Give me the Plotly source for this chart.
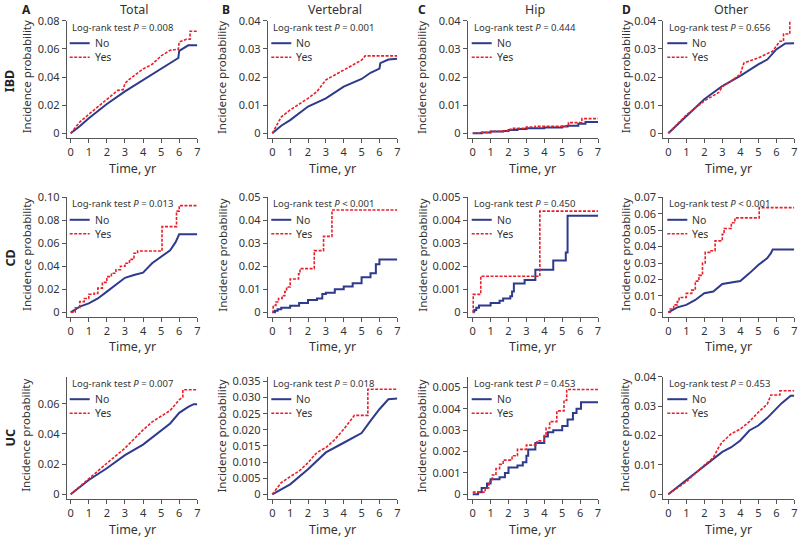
import plotly.graph_objects as go

W, H = 798, 537

# ---------------- data (time in years, cumulative incidence) ----------------
# Row IBD
ibd_total_no_t = [0, 0.5, 1, 2, 3, 4, 5, 5.5, 5.95, 6.0, 6.3, 6.5, 7]
ibd_total_no_p = [0, 0.005, 0.0107, 0.0208, 0.0298, 0.0379, 0.0459, 0.050, 0.0535, 0.0585, 0.061, 0.0625, 0.0625]
ibd_total_yes_t = [0, 0.5, 1, 2, 2.6, 2.9, 3.0, 3.2, 3.5, 4, 4.5, 5, 5.5, 5.95, 6.0, 6.4, 6.6, 6.6, 7]
ibd_total_yes_p = [0, 0.008, 0.0135, 0.0241, 0.0305, 0.031, 0.0355, 0.038, 0.0407, 0.0457, 0.049, 0.055, 0.059, 0.0597, 0.065, 0.0668, 0.0668, 0.0725, 0.0725]

ibd_vert_no_t = [0, 0.5, 1, 2, 3, 4, 5, 5.5, 6.0, 6.05, 6.5, 7]
ibd_vert_no_p = [0, 0.0027, 0.0047, 0.0095, 0.0124, 0.0166, 0.0193, 0.0215, 0.023, 0.0249, 0.0262, 0.0265]
ibd_vert_yes_t = [0, 0.5, 1, 2, 2.5, 3, 3.5, 4, 4.5, 5, 5.2, 7]
ibd_vert_yes_p = [0, 0.0058, 0.0083, 0.0124, 0.0148, 0.019, 0.0207, 0.0225, 0.0243, 0.026, 0.0275, 0.0275]

ibd_hip_no_t = [0, 0.5, 1.0, 1.7, 2.0, 2.5, 3.0, 4.0, 5.0, 5.3, 5.9, 6.3, 7]
ibd_hip_no_p = [0, 0.0003, 0.0006, 0.0008, 0.0012, 0.0015, 0.0018, 0.0021, 0.0024, 0.0027, 0.0034, 0.004, 0.004]
ibd_hip_yes_t = [0, 0.5, 1.0, 1.7, 2.0, 2.2, 3.0, 3.5, 5.2, 5.35, 6.1, 7]
ibd_hip_yes_p = [0, 0.0003, 0.0007, 0.0009, 0.0014, 0.0018, 0.0022, 0.0025, 0.0027, 0.0038, 0.0052, 0.0052]

ibd_other_no_t = [0, 1, 2, 3, 4, 5, 5.5, 6, 6.5, 7]
ibd_other_no_p = [0, 0.0062, 0.0121, 0.0168, 0.0204, 0.0245, 0.0262, 0.0298, 0.0319, 0.032]
ibd_other_yes_t = [0, 1, 2, 2.8, 3.0, 3.5, 4.0, 4.2, 5.0, 5.8, 6.0, 6.2, 6.4, 6.4, 6.75, 6.75, 7]
ibd_other_yes_p = [0, 0.0065, 0.0115, 0.0145, 0.0166, 0.0186, 0.021, 0.025, 0.0268, 0.0292, 0.031, 0.0327, 0.0327, 0.0353, 0.0353, 0.0404, 0.0404]

# Row CD
cd_total_no_t = [0, 0.5, 1, 1.5, 2, 2.5, 3, 3.5, 4, 4.5, 5, 5.5, 5.8, 6.0, 7]
cd_total_no_p = [0, 0.005, 0.0078, 0.012, 0.018, 0.024, 0.030, 0.0325, 0.0345, 0.0426, 0.0484, 0.054, 0.061, 0.0678, 0.0678]
cd_total_yes_t = [0, 0.25, 0.5, 0.75, 1.0, 1.3, 1.5, 1.75, 2.0, 2.25, 2.5, 2.75, 3.0, 3.25, 3.5, 3.7, 5.05, 5.85, 6.0, 7]
cd_total_yes_p = [0, 0.004, 0.0093, 0.012, 0.0157, 0.0165, 0.021, 0.026, 0.031, 0.034, 0.037, 0.040, 0.0426, 0.046, 0.0513, 0.0533, 0.0745, 0.088, 0.0928, 0.0928]

cd_vert_no_t = [0, 0.15, 0.3, 0.5, 1.0, 1.5, 2.0, 2.5, 2.8, 3.0, 3.5, 4.0, 4.5, 5.0, 5.5, 5.8, 6.0, 7]
cd_vert_no_p = [0, 0.0007, 0.0013, 0.002, 0.0028, 0.004, 0.0054, 0.006, 0.008, 0.0085, 0.010, 0.0112, 0.0126, 0.0152, 0.017, 0.0209, 0.023, 0.023]
cd_vert_yes_t = [0, 0.05, 0.2, 0.35, 0.55, 0.7, 0.8, 1.0, 1.47, 1.55, 2.35, 2.87, 3.34, 7]
cd_vert_yes_p = [0, 0.003, 0.0045, 0.006, 0.0072, 0.009, 0.011, 0.0145, 0.0167, 0.019, 0.0268, 0.033, 0.0445, 0.0445]

cd_hip_no_t = [0, 0.05, 0.1, 0.2, 0.35, 1.0, 1.5, 1.7, 2.1, 2.2, 2.3, 2.9, 3.5, 4.5, 5.2, 5.3, 7]
cd_hip_no_p = [0, 0.00005, 0.0001, 0.0002, 0.0003, 0.0004, 0.0005, 0.0006, 0.0007, 0.0009, 0.00125, 0.0014, 0.00185, 0.00225, 0.0026, 0.0042, 0.0042]
cd_hip_yes_t = [0, 0.03, 0.45, 3.75, 7]
cd_hip_yes_p = [0, 0.00078, 0.00157, 0.0044, 0.0044]

cd_other_no_t = [0, 0.5, 1, 1.5, 2, 2.5, 3, 3.5, 4, 4.5, 5, 5.5, 5.7, 5.8, 7]
cd_other_no_p = [0, 0.003, 0.0045, 0.0075, 0.0116, 0.0126, 0.0172, 0.018, 0.019, 0.0237, 0.0288, 0.033, 0.036, 0.0383, 0.0383]
cd_other_yes_t = [0, 0.1, 0.3, 0.5, 0.6, 1.0, 1.3, 1.5, 1.7, 1.9, 2.05, 2.3, 2.6, 3.0, 3.1, 3.5, 3.7, 5.05, 7]
cd_other_yes_p = [0, 0.002, 0.0045, 0.0065, 0.009, 0.0115, 0.0135, 0.019, 0.0225, 0.030, 0.0365, 0.0375, 0.0435, 0.0475, 0.051, 0.0545, 0.0575, 0.0637, 0.0637]

# Row UC
uc_total_no_t = [0, 1, 2, 3, 4, 5, 5.5, 6, 6.5, 6.8, 7]
uc_total_no_p = [0, 0.0095, 0.0173, 0.026, 0.033, 0.0427, 0.047, 0.054, 0.058, 0.0598, 0.0598]
uc_total_yes_t = [0, 1, 2, 3, 3.5, 4, 4.5, 5, 5.5, 6, 6.2, 6.2, 7]
uc_total_yes_p = [0, 0.0106, 0.0206, 0.0306, 0.037, 0.0427, 0.048, 0.0516, 0.0556, 0.0627, 0.0645, 0.0693, 0.0693]

uc_vert_no_t = [0, 1, 2, 3, 4, 5, 5.5, 6, 6.5, 7]
uc_vert_no_p = [0, 0.0031, 0.0078, 0.013, 0.016, 0.019, 0.0228, 0.0264, 0.0295, 0.0297]
uc_vert_yes_t = [0, 0.5, 1, 1.5, 2, 2.5, 3, 3.5, 4, 4.5, 4.6, 5.35, 5.35, 7]
uc_vert_yes_p = [0, 0.0036, 0.0055, 0.0072, 0.0098, 0.013, 0.0145, 0.017, 0.0202, 0.0238, 0.0245, 0.0245, 0.0326, 0.0326]

uc_hip_no_t = [0, 0.3, 0.5, 0.8, 1.0, 1.5, 1.8, 2.0, 2.5, 2.8, 3.0, 3.1, 3.5, 4.0, 4.2, 4.5, 5.0, 5.3, 5.6, 5.8, 6.05, 7]
uc_hip_no_p = [0, 0.0001, 0.0003, 0.0005, 0.0007, 0.0008, 0.001, 0.00125, 0.00135, 0.0015, 0.0018, 0.0021, 0.0024, 0.0027, 0.0029, 0.003, 0.0032, 0.0035, 0.0038, 0.004, 0.0043, 0.0043]
uc_hip_yes_t = [0, 0.7, 0.9, 1.1, 1.3, 1.5, 1.7, 2.2, 2.5, 3.0, 3.6, 4.0, 4.1, 4.3, 4.7, 5.1, 5.25, 7]
uc_hip_yes_p = [0.0001, 0.0003, 0.0006, 0.0009, 0.0012, 0.0014, 0.0016, 0.0018, 0.0021, 0.0023, 0.0025, 0.0028, 0.0031, 0.0034, 0.0039, 0.0044, 0.0049, 0.0049]

uc_other_no_t = [0, 1, 2, 2.5, 3, 3.5, 4, 4.5, 5, 5.5, 6, 6.3, 6.8, 7]
uc_other_no_p = [0, 0.0048, 0.0099, 0.0121, 0.0144, 0.016, 0.0183, 0.0217, 0.0234, 0.026, 0.029, 0.031, 0.0335, 0.0335]
uc_other_yes_t = [0, 1, 2, 2.5, 2.8, 3, 3.5, 4, 4.5, 5, 5.5, 5.7, 6.2, 6.2, 7]
uc_other_yes_p = [0, 0.0043, 0.0099, 0.0125, 0.016, 0.0178, 0.0206, 0.0222, 0.0247, 0.0279, 0.0307, 0.0338, 0.0338, 0.0352, 0.0352]

# labels
col_titles = ["Total", "Vertebral", "Hip", "Other"]
panel_letters = ["A", "B", "C", "D"]
row_labels = ["IBD", "CD", "UC"]
series_names = ["No", "Yes"]
p_texts = [["= 0.008", "= 0.001", "= 0.444", "= 0.656"],
           ["= 0.013", "&lt; 0.001", "= 0.450", "&lt; 0.001"],
           ["= 0.007", "= 0.018", "= 0.453", "= 0.453"]]
x_ticks = [0, 1, 2, 3, 4, 5, 6, 7]
y_tickvals = [
    [[0, 0.02, 0.04, 0.06, 0.08], [0, 0.01, 0.02, 0.03, 0.04], [0, 0.01, 0.02, 0.03, 0.04], [0, 0.01, 0.02, 0.03, 0.04]],
    [[0, 0.02, 0.04, 0.06, 0.08, 0.10], [0, 0.01, 0.02, 0.03, 0.04, 0.05], [0, 0.001, 0.002, 0.003, 0.004, 0.005],
     [0, 0.01, 0.02, 0.03, 0.04, 0.05, 0.06, 0.07]],
    [[0, 0.02, 0.04, 0.06], [0, 0.005, 0.010, 0.015, 0.020, 0.025, 0.030, 0.035], [0, 0.001, 0.002, 0.003, 0.004, 0.005],
     [0, 0.01, 0.02, 0.03, 0.04]],
]
y_ticktext = [
    [["0", "0.02", "0.04", "0.06", "0.08"], ["0", "0.01", "0.02", "0.03", "0.04"], ["0", "0.01", "0.02", "0.03", "0.04"], ["0", "0.01", "0.02", "0.03", "0.04"]],
    [["0", "0.02", "0.04", "0.06", "0.08", "0.10"], ["0", "0.01", "0.02", "0.03", "0.04", "0.05"],
     ["0", "0.001", "0.002", "0.003", "0.004", "0.005"], ["0", "0.01", "0.02", "0.03", "0.04", "0.05", "0.06", "0.07"]],
    [["0", "0.02", "0.04", "0.06"], ["0", "0.005", "0.010", "0.015", "0.020", "0.025", "0.030", "0.035"],
     ["0", "0.001", "0.002", "0.003", "0.004", "0.005"], ["0", "0.01", "0.02", "0.03", "0.04"]],
]
y_top_values = [[0.08, 0.04, 0.04, 0.04], [0.10, 0.05, 0.005, 0.07], [0.078, 0.0365, 0.0055, 0.04]]

panels = [
    [(ibd_total_no_t, ibd_total_no_p, ibd_total_yes_t, ibd_total_yes_p),
     (ibd_vert_no_t, ibd_vert_no_p, ibd_vert_yes_t, ibd_vert_yes_p),
     (ibd_hip_no_t, ibd_hip_no_p, ibd_hip_yes_t, ibd_hip_yes_p),
     (ibd_other_no_t, ibd_other_no_p, ibd_other_yes_t, ibd_other_yes_p)],
    [(cd_total_no_t, cd_total_no_p, cd_total_yes_t, cd_total_yes_p),
     (cd_vert_no_t, cd_vert_no_p, cd_vert_yes_t, cd_vert_yes_p),
     (cd_hip_no_t, cd_hip_no_p, cd_hip_yes_t, cd_hip_yes_p),
     (cd_other_no_t, cd_other_no_p, cd_other_yes_t, cd_other_yes_p)],
    [(uc_total_no_t, uc_total_no_p, uc_total_yes_t, uc_total_yes_p),
     (uc_vert_no_t, uc_vert_no_p, uc_vert_yes_t, uc_vert_yes_p),
     (uc_hip_no_t, uc_hip_no_p, uc_hip_yes_t, uc_hip_yes_p),
     (uc_other_no_t, uc_other_no_p, uc_other_yes_t, uc_other_yes_p)],
]
# line shape per trace (no, yes): 'hv' for visibly stepped curves
shapes_mode = [
    [("linear", "linear"), ("linear", "linear"), ("hv", "hv"), ("linear", "linear")],
    [("linear", "hv"), ("hv", "hv"), ("hv", "hv"), ("linear", "hv")],
    [("linear", "linear"), ("linear", "linear"), ("hv", "hv"), ("linear", "linear")],
]

# ---------------- geometry (pixels) ----------------
col_left = [66.7, 267.7, 467.7, 663.3]
col_x0 = [70.7, 272.3, 472.7, 668.3]
col_x7 = [197.3, 397.3, 598.0, 794.3]
row_top = [20.7, 197.3, 376.7]
row_y0 = [133.3, 312.3, 494.3]
row_bottom = [138.0, 316.7, 499.0]
ytitle_x = [26, 221.7, 421.7, 625]
letter_x = [26, 226, 422, 626]

NAVY = "#2E3A8C"
RED = "#E8202A"
AX = "#555555"
TXT = "#333333"
FONT = "Noto Sans, Liberation Sans, Arial, sans-serif"


def px(x):
    return x / W


def py(y):
    return 1 - y / H


fig = go.Figure()
layout = dict(width=W, height=H, margin=dict(l=0, r=0, t=0, b=0, autoexpand=False),
              paper_bgcolor="white", plot_bgcolor="white", showlegend=False,
              font=dict(family=FONT, color=TXT))
annotations = []
shapes = []

k = 0
for r in range(3):
    for c in range(4):
        k += 1
        xa = "xaxis" if k == 1 else f"xaxis{k}"
        ya = "yaxis" if k == 1 else f"yaxis{k}"
        xr = "x" if k == 1 else f"x{k}"
        yr = "y" if k == 1 else f"y{k}"
        xunit = (col_x7[c] - col_x0[c]) / 7.0
        xmin = -(col_x0[c] - col_left[c]) / xunit
        ytop = y_top_values[r][c]
        yunit = (row_y0[r] - row_top[r]) / ytop
        ymin = -(row_bottom[r] - row_y0[r]) / yunit
        layout[xa] = dict(domain=[px(col_left[c]), px(col_x7[c])], range=[xmin, 7], anchor=yr,
                          tickvals=x_ticks, ticks="outside", ticklen=4, tickcolor=AX,
                          showline=True, linecolor=AX, linewidth=1, showgrid=False, zeroline=False,
                          automargin=False, tickfont=dict(size=11, color=TXT))
        layout[ya] = dict(domain=[py(row_bottom[r]), py(row_top[r])], range=[ymin, ytop], anchor=xr,
                          tickvals=y_tickvals[r][c], ticktext=y_ticktext[r][c], ticks="outside",
                          ticklen=4, tickcolor=AX, showline=True, linecolor=AX, linewidth=1,
                          showgrid=False, zeroline=False, automargin=False, tickfont=dict(size=11, color=TXT))
        nt, npv, yt, ypv = panels[r][c]
        sm = shapes_mode[r][c]
        fig.add_trace(go.Scatter(x=nt, y=npv, mode="lines", name=series_names[0],
                                 line=dict(color=NAVY, width=2, shape=sm[0]), xaxis=xr, yaxis=yr))
        fig.add_trace(go.Scatter(x=yt, y=ypv, mode="lines", name=series_names[1],
                                 line=dict(color=RED, width=1.6, dash="3px,1.5px", shape=sm[1]),
                                 xaxis=xr, yaxis=yr))
        # log-rank text and legend
        top = row_top[r]
        x0 = col_x0[c]
        annotations.append(dict(x=px(x0 - 1), y=py(top + 6.5), xref="paper", yref="paper",
                                text=f"Log-rank test <i>P</i> {p_texts[r][c]}", showarrow=False,
                                xanchor="left", yanchor="middle", font=dict(size=9.5, color=TXT)))
        for i, (color, dash, w) in enumerate([(NAVY, "solid", 2), (RED, "3px,1.5px", 1.6)]):
            yy = top + 22.5 + 14 * i
            shapes.append(dict(type="line", xref="paper", yref="paper", x0=px(x0 - 1), x1=px(x0 + 19),
                               y0=py(yy), y1=py(yy), line=dict(color=color, width=w, dash=dash)))
            annotations.append(dict(x=px(x0 + 22), y=py(yy), xref="paper", yref="paper",
                                    text=series_names[i], showarrow=False, xanchor="left",
                                    yanchor="middle", font=dict(size=10.5, color=TXT)))
        # y-axis title
        annotations.append(dict(x=px(ytitle_x[c]), y=py((row_top[r] + row_bottom[r]) / 2 - 2), xref="paper",
                                yref="paper", text="Incidence probability", textangle=-90, showarrow=False,
                                xanchor="center", yanchor="middle", font=dict(size=11.5, color=TXT)))
        # x-axis title
        annotations.append(dict(x=px((col_left[c] + col_x7[c]) / 2), y=py(row_bottom[r] + 30), xref="paper",
                                yref="paper", text="Time, yr", showarrow=False, xanchor="center",
                                yanchor="middle", font=dict(size=12.5, color=TXT)))

for c in range(4):
    annotations.append(dict(x=px((col_left[c] + col_x7[c]) / 2 + 2), y=1, xref="paper", yref="paper",
                            text=col_titles[c], showarrow=False, xanchor="center", yanchor="top",
                            borderpad=0, font=dict(size=12.5, color=TXT)))
    annotations.append(dict(x=px(letter_x[c]), y=1, xref="paper", yref="paper",
                            text=f"<b>{panel_letters[c]}</b>", showarrow=False, xanchor="center",
                            yanchor="top", borderpad=0, font=dict(size=12, color="#222222")))
row_label_y = [81.7, 258, 438]
for r in range(3):
    annotations.append(dict(x=0, y=py(row_label_y[r]), xref="paper", yref="paper",
                            text=f"<b>{row_labels[r]}</b>", textangle=-90, showarrow=False,
                            xanchor="left", yanchor="middle", borderpad=0,
                            font=dict(size=12.5, color="#222222")))

layout["annotations"] = annotations
layout["shapes"] = shapes
fig.update_layout(**layout)
fig.write_html("out.html", config={"displayModeBar": False},
               post_script="document.body.style.margin='0';document.body.style.overflow='hidden';")
